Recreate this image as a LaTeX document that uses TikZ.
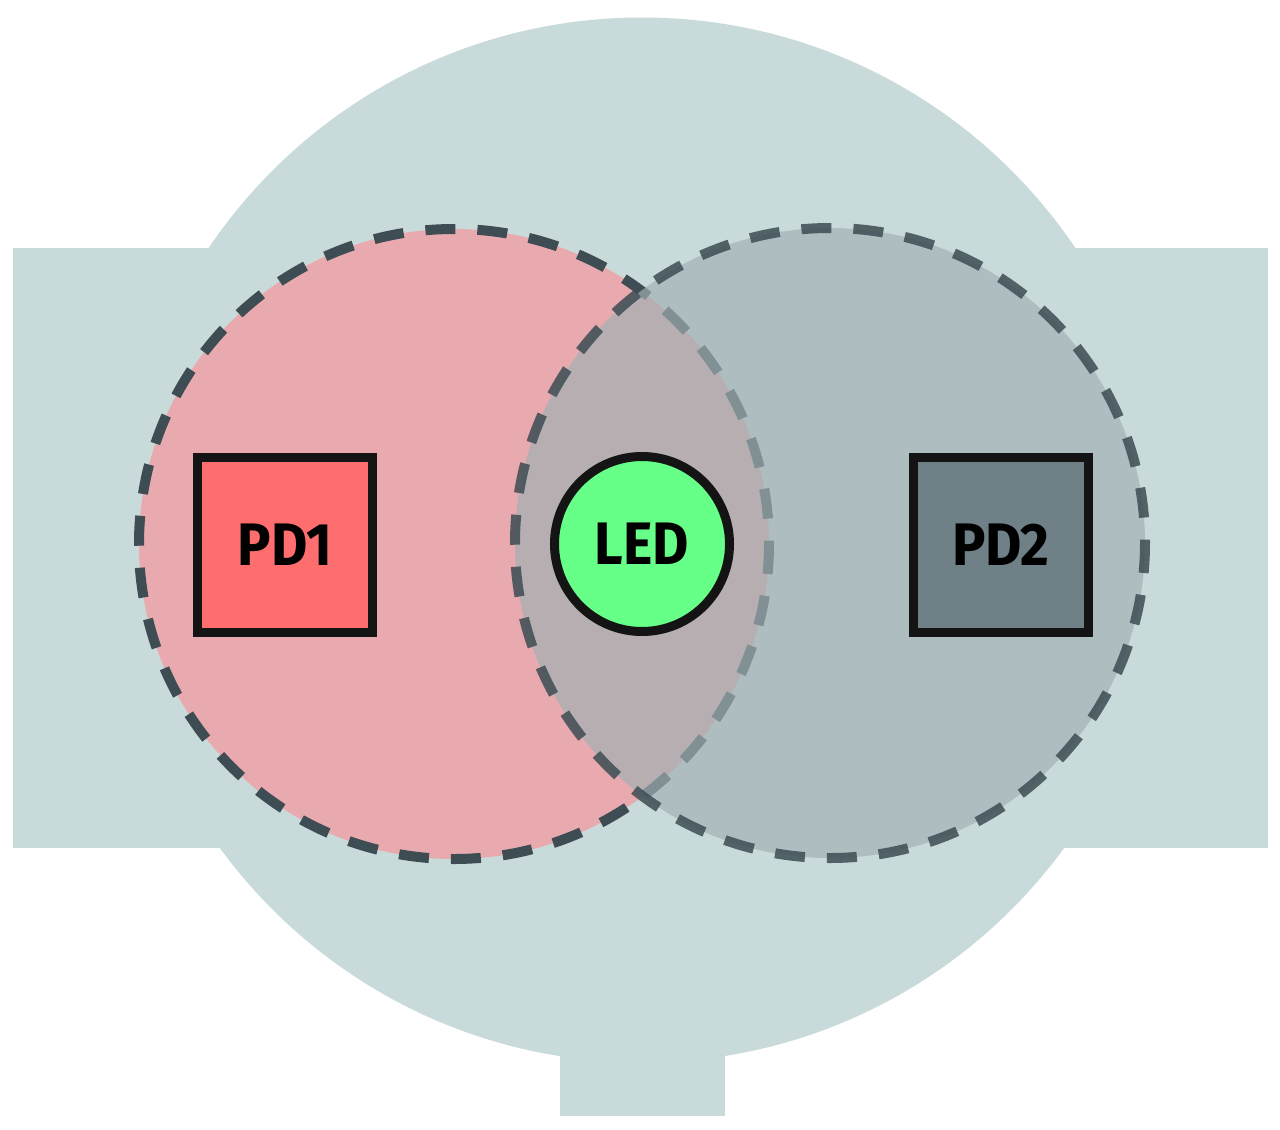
\documentclass[tikz,border=0pt]{standalone}
\usepackage{fontspec}
\setmainfont{Fira Sans}
\newfontfamily\labelfont[FakeStretch=0.93]{Fira Sans}
\definecolor{bandcol}{HTML}{C9DADA}
\definecolor{pinkcol}{HTML}{E8AAAE}
\definecolor{greycol}{HTML}{A0B0B5}
\definecolor{dashcol}{HTML}{3D4D53}
\definecolor{pdonecol}{HTML}{FF6E6E}
\definecolor{pdtwocol}{HTML}{6F8087}
\definecolor{ledcol}{HTML}{66FF88}
\definecolor{edgecol}{HTML}{141414}
\tikzset{
  zone/.style={draw=dashcol, line width=10pt, dash pattern=on 30pt off 22pt},
  pdbox/.style={draw=edgecol, line width=9pt, minimum width=175pt, minimum height=175pt, inner sep=0pt,
    font=\labelfont\fontsize{60}{60}\selectfont\bfseries, text height=41pt, text depth=0pt},
  ledcirc/.style={circle, draw=edgecol, line width=9pt, fill=ledcol, minimum size=175pt, inner sep=0pt,
    font=\labelfont\fontsize{60}{60}\selectfont\bfseries, text height=41pt, text depth=0pt}
}
\begin{document}
\begin{tikzpicture}[x=1pt, y=-1pt]
\useasboundingbox (0,0) rectangle (1280,1130);
\fill[white] (0,0) rectangle (1280,1130);
% housing
\fill[bandcol] (13,248) rectangle (1268,848);
\fill[bandcol] (642,540) circle (522.5);
\fill[bandcol] (560,900) rectangle (725,1116);
% left zone
\coordinate (lc) at (454,544);
\coordinate (rc) at (830,543);
\fill[pinkcol] (lc) circle (315);
\draw[zone] (lc) circle (315);
% right zone
\fill[greycol, fill opacity=0.68] (rc) circle (315);
\draw[zone, draw opacity=0.85] (rc) circle (315);
% components
\node[pdbox, fill=pdonecol] (pd1) at (285,544.5) {PD1};
\node[pdbox, fill=pdtwocol] (pd2) at (1001,544.5) {PD2};
\node[ledcirc] (led) at (642,544) {LED};
\end{tikzpicture}
\end{document}
